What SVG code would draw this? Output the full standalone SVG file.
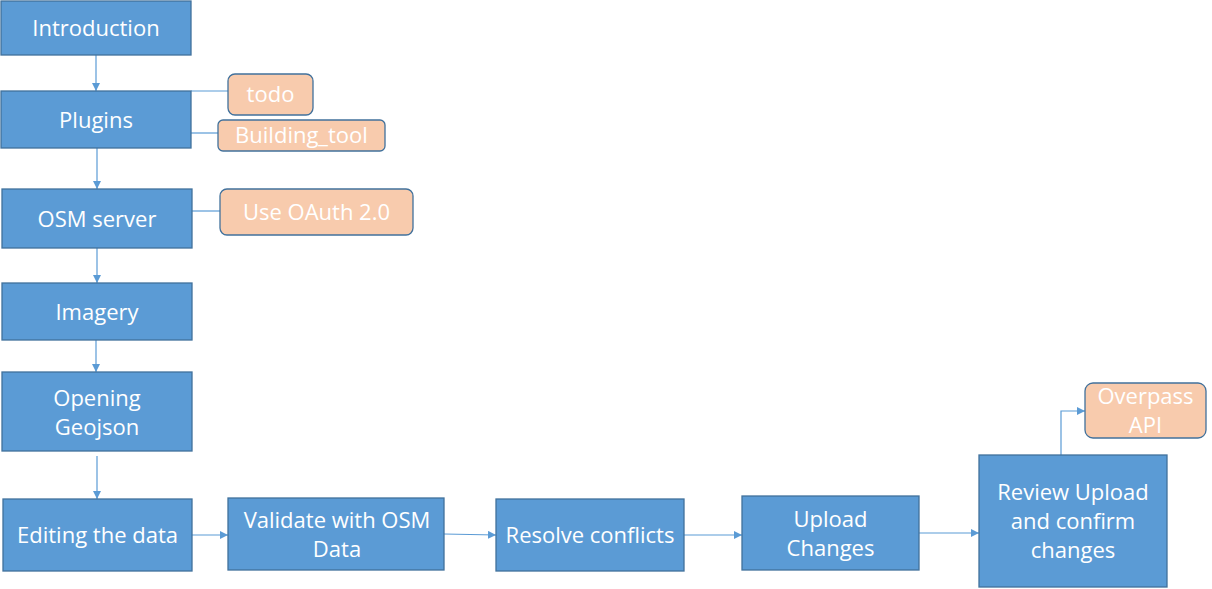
<svg xmlns="http://www.w3.org/2000/svg" width="1212" height="589" viewBox="0 0 1212 589">
<defs>
<marker id="ah" viewBox="0 0 10 10" refX="10" refY="5" markerWidth="8" markerHeight="8" markerUnits="userSpaceOnUse" orient="auto">
<path d="M0,0 L10,5 L0,10 z" fill="#5B9BD5"/>
</marker>
<style>
.box{fill:#5B9BD5;stroke:#41719C;stroke-width:1.3}
.note{fill:#F8CBAD;stroke:#41719C;stroke-width:1.3}
text{font-family:"Open Sans","Liberation Sans",sans-serif;font-size:22px;fill:#FFFFFF;text-anchor:middle}
.c{fill:none;stroke:#5B9BD5;stroke-width:1.2}
.a{marker-end:url(#ah)}
</style>
</defs>
<rect width="1212" height="589" fill="#FFFFFF"/>
<g id="connectors">
<line class="c a" x1="96" y1="55" x2="96" y2="91"/>
<line class="c" x1="191" y1="91" x2="228" y2="91"/>
<line class="c" x1="191" y1="133" x2="218" y2="133"/>
<line class="c a" x1="97" y1="148" x2="97" y2="189"/>
<line class="c" x1="192" y1="211" x2="220" y2="211"/>
<line class="c a" x1="97" y1="248" x2="97" y2="283"/>
<line class="c a" x1="96" y1="340" x2="96" y2="372"/>
<line class="c a" x1="97" y1="456" x2="97" y2="499"/>
<line class="c a" x1="192" y1="535" x2="228" y2="535"/>
<line class="c a" x1="444" y1="534" x2="496" y2="535"/>
<line class="c a" x1="684" y1="535" x2="742" y2="535"/>
<line class="c a" x1="919" y1="533" x2="979" y2="533"/>
<polyline class="c a" points="1061,455 1061,411 1085,411"/>
</g>
<g id="introduction"><rect class="box" x="1" y="1" width="190" height="54"/><text x="96" y="36">Introduction</text></g>
<g id="plugins"><rect class="box" x="1" y="91" width="190" height="57"/><text x="96" y="127.5">Plugins</text></g>
<g id="todo"><rect class="note" x="228" y="74" width="85" height="41" rx="7"/><text x="270.5" y="102">todo</text></g>
<g id="building-tool"><rect class="note" x="218" y="120" width="167" height="31" rx="5"/><text x="301.5" y="143">Building_tool</text></g>
<g id="osm-server"><rect class="box" x="2" y="189" width="190" height="59"/><text x="97" y="226.5">OSM server</text></g>
<g id="oauth"><rect class="note" x="220" y="189" width="193" height="46" rx="7"/><text x="316.5" y="220">Use OAuth 2.0</text></g>
<g id="imagery"><rect class="box" x="2" y="283" width="190" height="57"/><text x="97" y="319.5">Imagery</text></g>
<g id="opening-geojson"><rect class="box" x="2" y="372" width="190" height="79"/><text x="97" y="405.5">Opening</text><text x="97" y="434.5">Geojson</text></g>
<g id="editing"><rect class="box" x="3" y="499" width="189" height="72"/><text x="97.5" y="543">Editing the data</text></g>
<g id="validate"><rect class="box" x="228" y="498" width="216" height="72"/><text x="337" y="527.5">Validate with OSM</text><text x="337" y="556.5">Data</text></g>
<g id="resolve"><rect class="box" x="496" y="499" width="188" height="72"/><text x="590" y="543">Resolve conflicts</text></g>
<g id="upload"><rect class="box" x="742" y="496" width="177" height="74"/><text x="830.5" y="526.5">Upload</text><text x="830.5" y="555.5">Changes</text></g>
<g id="review"><rect class="box" x="979" y="455" width="188" height="132"/><text x="1073" y="500">Review Upload</text><text x="1073" y="529">and confirm</text><text x="1073" y="558">changes</text></g>
<g id="overpass"><rect class="note" x="1085" y="383" width="121" height="55" rx="8"/><text x="1145.5" y="404">Overpass</text><text x="1145.5" y="433">API</text></g>
</svg>
